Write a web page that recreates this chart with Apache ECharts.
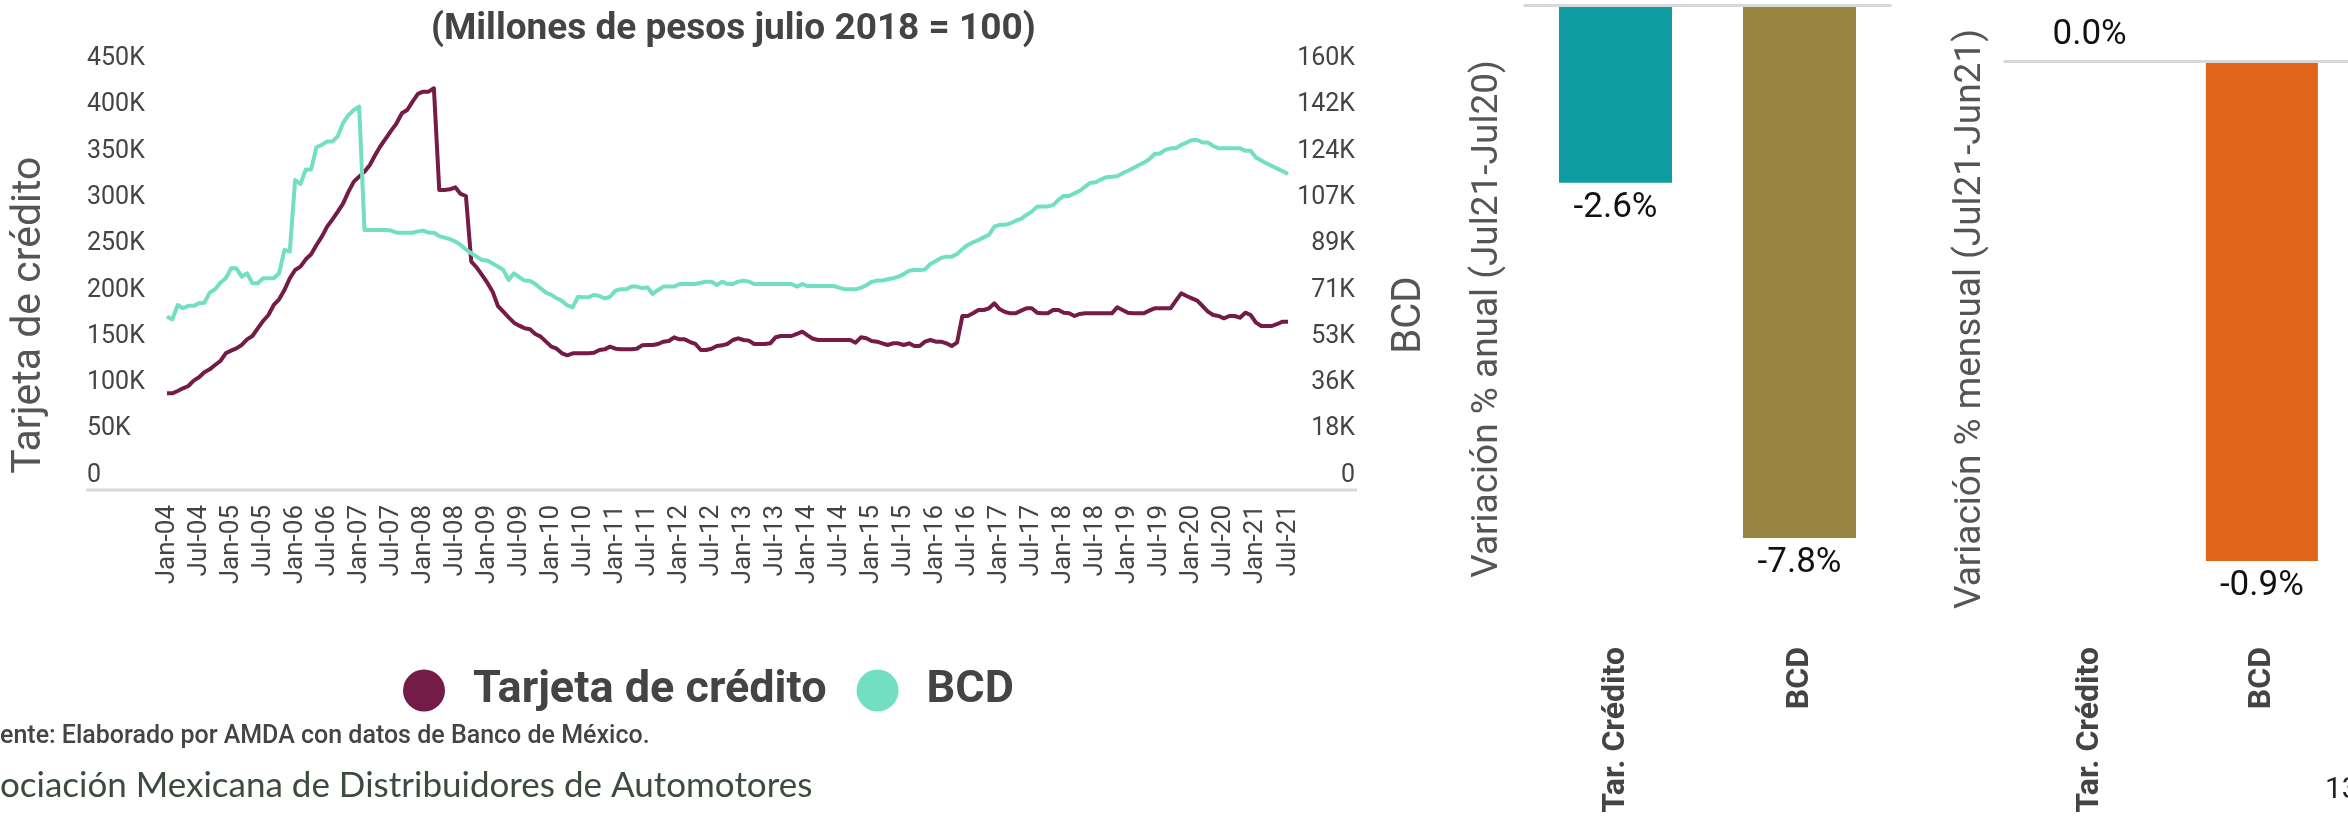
<!DOCTYPE html>
<html>
<head>
<meta charset="utf-8">
<title>Tarjeta de crédito y BCD</title>
<script src="https://cdn.jsdelivr.net/npm/echarts@6/dist/echarts.min.js"></script>
<style>
  html, body { margin: 0; padding: 0; background: #fff; }
  #chart { width: 2348px; height: 821px; }
</style>
</head>
<body>
<div id="chart"></div>
<script>
// Saldos mensuales, miles de millones de pesos (julio 2018 = 100), Jan-04 .. Jul-21
var tarjetaK = [
  104.4, 104.4, 106.9, 109.8, 112.3, 118.1, 121.7, 127.1, 130.3, 135, 139.3, 147.6,   // 2004
  150.5, 153, 156.6, 162.7, 166.3, 174.6, 182.5, 189, 199.8, 205.9, 216, 228.6,        // 2005
  237.6, 241.2, 249.1, 254.5, 264.6, 273.6, 284.4, 292.3, 300.6, 309.6, 322.2, 333,    // 2006
  338.4, 343.8, 351, 361.8, 371.5, 379.8, 388.1, 396, 406.8, 410.4, 419.4, 427.7,      // 2007
  430.2, 430.2, 433.8, 324, 324, 324.7, 326.9, 319.7, 317.5, 246.6, 240.5, 232.2,      // 2008
  223.9, 214.2, 198.7, 192.6, 186.5, 180.7, 177.5, 174.6, 173.5, 168.5, 165.6, 160.2,  // 2009
  154.8, 152.6, 147.6, 145.5, 147.6, 147.6, 147.6, 147.6, 148.3, 151.2, 151.9, 154.8,  // 2010
  152.6, 151.9, 151.9, 151.9, 152.6, 156.2, 156.6, 156.6, 157.7, 160.2, 160.9, 164.9,  // 2011
  162.7, 162.7, 159.8, 157.7, 151.2, 151.2, 152.6, 155.5, 156.2, 157.7, 162, 163.8,    // 2012
  162, 161.3, 157.7, 157.7, 157.7, 158.4, 164.9, 166.3, 166.3, 166.3, 168.5, 171,      // 2013
  167, 163.4, 162, 162, 162, 162, 162, 162, 162, 159.1, 164.9, 163.8,                  // 2014
  160.9, 160.2, 158.4, 156.6, 158.4, 158.4, 156.6, 158.4, 155.5, 155.5, 160.2, 162,    // 2015
  160.2, 160.2, 158.4, 155.5, 159.1, 187.9, 187.9, 190.8, 194.4, 194.4, 196.2, 201.6,  // 2016
  195.1, 192.2, 190.8, 190.8, 193.7, 196.2, 196.2, 191.5, 190.8, 190.8, 194.4, 194.4,  // 2017
  191.5, 190.8, 187.9, 190.1, 190.8, 190.8, 190.8, 190.8, 190.8, 190.8, 197.3, 194.4,  // 2018
  191.5, 190.8, 190.8, 190.8, 193.7, 196.2, 196.2, 196.2, 196.2, 204.5, 212.4, 209.5,  // 2019
  207, 204.5, 198.7, 192.6, 189, 187.9, 185.4, 187.9, 187.9, 186.1, 191.5, 189,        // 2020
  180.7, 177.1, 177.1, 177.1, 179.3, 181.8, 181.8                                      // 2021
];
var bcdK = [
  66.6, 65.5, 71, 69.8, 70.7, 70.7, 71.7, 71.9, 75.8, 77.1, 79.6, 81.3,
  85.1, 85.1, 81.9, 83.2, 79.4, 79.4, 81.3, 81.3, 81.3, 83.2, 92.2, 91.5,
  119, 117.5, 123.1, 123.1, 131.6, 132.5, 133.8, 133.8, 135.9, 141, 144, 145.9,
  147.2, 99.8, 99.8, 99.8, 99.8, 99.8, 99.6, 98.8, 98.8, 98.8, 98.8, 99.3,
  99.6, 98.8, 98.8, 97.5, 96.9, 96.4, 95.4, 94.1, 92.4, 90.9, 89.6, 88.3,
  88.1, 87, 85.8, 84.5, 80.6, 83.2, 81.7, 80.4, 80.3, 79.1, 77.4, 75.8,
  74.9, 73.6, 72.6, 70.9, 70.1, 74.2, 74, 74, 74.9, 74.5, 73.6, 74.2,
  76.5, 77.1, 77.1, 78.1, 78.1, 77.5, 77.8, 75.3, 76.8, 78.1, 78.1, 78.1,
  79.1, 79.1, 79.1, 79.1, 79.6, 80, 80, 78.7, 80, 79.1, 79.1, 80,
  80.4, 80, 79.1, 79.1, 79.1, 79.1, 79.1, 79.1, 79.1, 79.1, 78.1, 79.1,
  78.3, 78.3, 78.3, 78.3, 78.3, 78.3, 77.6, 77.1, 77.1, 77.1, 77.6, 78.6,
  79.9, 80.4, 80.4, 80.9, 81.3, 81.9, 82.9, 84.2, 84.5, 84.5, 84.7, 86.8,
  87.9, 89.1, 89.6, 89.6, 90.6, 92.5, 94.1, 95.1, 96, 97, 98, 101.1,
  101.8, 101.8, 102.4, 103.4, 104.1, 105.6, 106.9, 108.8, 108.9, 108.9, 109.4, 111.4,
  112.9, 112.9, 113.9, 114.9, 116.5, 118, 118.2, 119.3, 120.1, 120.3, 120.5, 121.6,
  122.6, 123.6, 124.7, 125.7, 127, 129, 129.2, 130.6, 131.2, 131.2, 132.5, 133.4,
  134.4, 134.4, 133.4, 133.4, 132.1, 131.2, 131.2, 131.2, 131.2, 131.2, 130.3, 130.3,
  127.7, 126.5, 125.4, 124.4, 123.4, 122.4, 121.3
];

var monthNames = ['Jan', 'Feb', 'Mar', 'Apr', 'May', 'Jun', 'Jul', 'Aug', 'Sep', 'Oct', 'Nov', 'Dec'];
var firstYear = 2004, lastYear = 2021, lastMonth = 6;

var barCats = ['Tar. Crédito', 'BCD'];
var anual = [-2.6, -7.8];      // Variación % anual (Jul21-Jul20)
var mensual = [0.0, -0.9];     // Variación % mensual (Jul21-Jun21)

var leftTicks = { min: 0, max: 450000, step: 50000 };
var rightTicks = { min: 0, max: 160000, count: 9 };

var months = [];
for (var y = firstYear; y <= lastYear; y++) {
  for (var m = 0; m < 12; m++) {
    if (y === lastYear && m > lastMonth) break;
    months.push(monthNames[m] + '-' + String(y).slice(2));
  }
}

var FONT = 'Roboto, "Noto Sans", sans-serif';
var GREY = '#444444';

function kLabel(v) {
  if (v === 0) return '0';
  return Math.round(v / 1000) + 'K';
}
function pct(p) {
  return p.value.toFixed(1) + '%';
}

var chart = echarts.init(document.getElementById('chart'));

chart.setOption({
  animation: false,
  backgroundColor: '#ffffff',
  textStyle: { fontFamily: FONT },
  title: {
    text: '(Millones de pesos julio 2018 = 100)',
    left: 431, top: 11, padding: 0,
    textStyle: { fontSize: 37, fontWeight: 'bold', color: GREY, fontFamily: FONT }
  },
  legend: {
    data: ['Tarjeta de crédito', 'BCD'],
    left: 398, top: 663,
    icon: 'circle', itemWidth: 44, itemHeight: 42, itemGap: 30,
    textStyle: { fontSize: 45, fontWeight: 'bold', color: GREY, padding: [0, 0, 0, 22], fontFamily: FONT }
  },
  grid: [
    { left: 167, right: 1060, top: 73.3, bottom: 331 },
    { left: 1523.5, width: 368, top: 5, bottom: 283 },
    { left: 2003.5, width: 370, top: 61, bottom: 260 }
  ],
  xAxis: [
    {
      gridIndex: 0, type: 'category', data: months, boundaryGap: false,
      axisLine: { show: false }, axisTick: { show: false },
      axisLabel: { interval: 5, rotate: 90, margin: 15, fontSize: 26, color: GREY }
    },
    {
      gridIndex: 1, type: 'category', data: barCats, position: 'bottom',
      axisLine: { show: false, onZero: false }, axisTick: { show: false },
      axisLabel: { rotate: 90, margin: 109, fontSize: 32, fontWeight: 'bold', color: GREY }
    },
    {
      gridIndex: 2, type: 'category', data: barCats, position: 'bottom',
      axisLine: { show: false, onZero: false }, axisTick: { show: false },
      axisLabel: { rotate: 90, margin: 86, fontSize: 32, fontWeight: 'bold', color: GREY }
    }
  ],
  yAxis: [
    {
      gridIndex: 0, type: 'value', min: leftTicks.min, max: leftTicks.max, interval: leftTicks.step,
      splitLine: { show: false }, axisLine: { show: false }, axisTick: { show: false },
      axisLabel: {
        formatter: kLabel, align: 'left', margin: 80, fontSize: 25, color: GREY,
        verticalAlign: 'bottom', padding: [0, 0, 2, 0]
      },
      name: 'Tarjeta de crédito', nameLocation: 'middle', nameRotate: 90, nameGap: 117,
      nameTextStyle: { fontSize: 41, color: '#555555', padding: [0, 67, 0, 0] }
    },
    {
      gridIndex: 0, type: 'value', position: 'right',
      min: rightTicks.min, max: rightTicks.max, interval: (rightTicks.max - rightTicks.min) / rightTicks.count,
      splitLine: { show: false }, axisLine: { show: false }, axisTick: { show: false },
      axisLabel: {
        formatter: kLabel, align: 'right', margin: 67, fontSize: 25, color: GREY,
        verticalAlign: 'bottom', padding: [0, 0, 2, 0]
      },
      name: 'BCD', nameLocation: 'middle', nameRotate: 90, nameGap: 102,
      nameTextStyle: { fontSize: 40, color: '#555555', padding: [0, 67, 0, 0] }
    },
    {
      gridIndex: 1, type: 'value', min: -7.8, max: 0,
      splitLine: { show: false }, axisLine: { show: false }, axisTick: { show: false }, axisLabel: { show: false },
      name: 'Variación % anual (Jul21-Jul20)', nameLocation: 'middle', nameRotate: 90, nameGap: 17,
      nameTextStyle: { fontSize: 37, color: '#555555', padding: [0, 95, 0, 0] }
    },
    {
      gridIndex: 2, type: 'value', min: -0.9, max: 0,
      splitLine: { show: false }, axisLine: { show: false }, axisTick: { show: false }, axisLabel: { show: false },
      name: 'Variación % mensual (Jul21-Jun21)', nameLocation: 'middle', nameRotate: 90, nameGap: 14,
      nameTextStyle: { fontSize: 37, color: '#555555', padding: [0, 16, 0, 0] }
    }
  ],
  series: [
    {
      name: 'Tarjeta de crédito', type: 'line', xAxisIndex: 0, yAxisIndex: 0,
      data: tarjetaK.map(function (v) { return v * 1000; }),
      showSymbol: false, color: '#741b47',
      lineStyle: { width: 4, color: '#741b47', join: 'round' }
    },
    {
      name: 'BCD', type: 'line', xAxisIndex: 0, yAxisIndex: 1,
      data: bcdK.map(function (v) { return v * 1000; }),
      showSymbol: false, color: '#72dfc2',
      lineStyle: { width: 4, color: '#72dfc2', join: 'round' }
    },
    {
      name: 'Anual', type: 'bar', xAxisIndex: 1, yAxisIndex: 2, barWidth: 113,
      data: [
        { value: anual[0], itemStyle: { color: '#0f9ca2' } },
        { value: anual[1], itemStyle: { color: '#998542' } }
      ],
      label: { show: true, position: 'bottom', distance: 8, formatter: pct, fontSize: 35, color: '#111111' },
      markLine: {
        silent: true, symbol: 'none', label: { show: false },
        lineStyle: { color: '#d9d9d9', width: 3, type: 'solid' },
        data: [{ yAxis: 0 }]
      }
    },
    {
      name: 'Mensual', type: 'bar', xAxisIndex: 2, yAxisIndex: 3, barWidth: 112,
      data: [
        { value: mensual[0], itemStyle: { color: '#e0641a' }, label: { position: 'top' } },
        { value: mensual[1], itemStyle: { color: '#e0641a' } }
      ],
      label: { show: true, position: 'bottom', distance: 8, formatter: pct, fontSize: 35, color: '#111111' },
      markLine: {
        silent: true, symbol: 'none', label: { show: false },
        lineStyle: { color: '#d9d9d9', width: 3, type: 'solid' },
        data: [{ yAxis: 0 }]
      }
    }
  ],
  graphic: [
    {
      type: 'line', z: -1, silent: true,
      shape: { x1: 86, y1: 490, x2: 1357, y2: 490 },
      style: { stroke: '#d9d9d9', lineWidth: 3 }
    },
    {
      type: 'text', x: 0, y: 737, silent: true,
      style: {
        text: 'ente: Elaborado por AMDA con datos de Banco de México.',
        font: '500 25px Roboto, sans-serif', fill: GREY, align: 'left', verticalAlign: 'middle'
      }
    },
    {
      type: 'text', x: 0, y: 786, silent: true,
      style: {
        text: 'ociación Mexicana de Distribuidores de Automotores',
        font: '35px Lato, "Open Sans", sans-serif', fill: '#3d4b3f', align: 'left', verticalAlign: 'middle'
      }
    },
    {
      type: 'text', x: 2325, y: 790, silent: true,
      style: { text: '13', font: '30px ' + FONT, fill: '#222222', align: 'left', verticalAlign: 'middle' }
    }
  ]
});
</script>
</body>
</html>
